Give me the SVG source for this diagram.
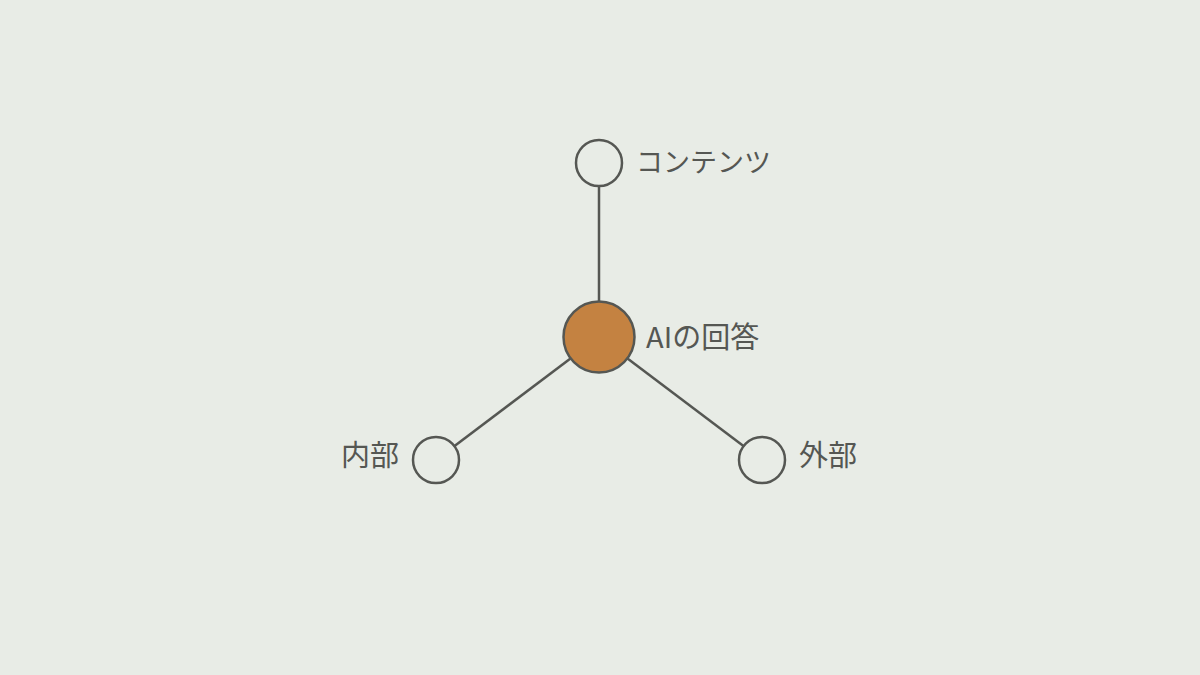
<svg xmlns="http://www.w3.org/2000/svg" width="1200" height="675" viewBox="0 0 1200 675">
<style>
.edge{stroke:#555753;stroke-width:2.5;fill:none}
.node{stroke:#555753;stroke-width:2.5;fill:#e8ece6}
.hub{stroke:#555753;stroke-width:2.5;fill:#c48241}
.lbl{font-family:"Noto Sans CJK JP","Noto Sans",sans-serif;font-size:29px;fill:#555753}
</style>
<rect width="1200" height="675" fill="#e8ece6"/>
<g id="connectors">
<line class="edge" x1="599" y1="337" x2="599" y2="163"/>
<line class="edge" x1="599" y1="337" x2="436" y2="460"/>
<line class="edge" x1="599" y1="337" x2="762" y2="460"/>
</g>
<g id="node-content">
<circle class="node" cx="599" cy="163" r="23"/>
<text class="lbl" x="636" y="172" style="font-size:27px">コンテンツ</text>
</g>
<g id="node-ai">
<circle class="hub" cx="599" cy="337" r="35.5"/>
<text class="lbl" x="646" y="348">AIの回答</text>
</g>
<g id="node-internal">
<circle class="node" cx="436" cy="460" r="23"/>
<text class="lbl" x="399" y="466" text-anchor="end">内部</text>
</g>
<g id="node-external">
<circle class="node" cx="762" cy="460" r="23"/>
<text class="lbl" x="799" y="466">外部</text>
</g>
</svg>
